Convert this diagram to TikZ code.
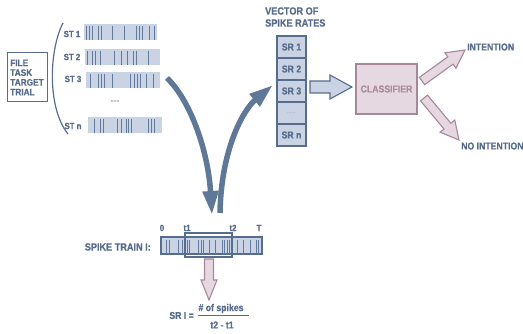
\documentclass[tikz,border=0pt]{standalone}
\usepackage{fontspec}
\setmainfont{Liberation Sans}[FakeStretch=0.87, BoldFont={Liberation Sans Bold}, BoldFeatures={FakeStretch=0.87, FakeBold=0.6}]
\usetikzlibrary{calc,arrows.meta}

\definecolor{ink}{RGB}{88,108,140}
\definecolor{arrowblue}{RGB}{96,120,152}
\definecolor{barfill}{RGB}{202,211,228}
\definecolor{spikecol}{RGB}{98,122,158}
\definecolor{pinkfill}{RGB}{230,216,224}
\definecolor{pinkline}{RGB}{166,136,154}
\definecolor{pinktext}{RGB}{170,140,158}

% block arrow: style, tail, tip, shaft half width, head half width, head length
\newcommand\blockarrow[6]{%
  \coordinate (ba-h) at ($(#3)!#6!(#2)$);
  \draw[#1] ($(#2)!#4!90:(#3)$) -- ($(ba-h)!#4!90:(#3)$) -- ($(ba-h)!#5!90:(#3)$)
    -- (#3) -- ($(ba-h)!#5!-90:(#3)$) -- ($(ba-h)!#4!-90:(#3)$)
    -- ($(#2)!#4!-90:(#3)$) -- cycle;
}

\tikzset{
  lbl/.style={text=ink, inner sep=0, font=\bfseries\fontsize{10}{11}\selectfont},
  small/.style={text=ink, inner sep=0, font=\bfseries\fontsize{9}{10}\selectfont},
  rowbar/.style={fill=barfill, draw=none, inner sep=0, minimum height=16},
  spike/.style={draw=spikecol, line width=1pt},
  cell/.style={fill=barfill, draw=ink, line width=1.2pt, inner sep=0,
    minimum width=29, minimum height=22, text=ink,
    font=\bfseries\fontsize{10}{11}\selectfont},
  bluearrow/.style={fill=barfill, draw=ink, line width=1.1pt, line join=miter},
  pinkarrow/.style={fill=pinkfill, draw=pinkline, line width=1.1pt, line join=miter},
  bigarrow/.style={draw=arrowblue, line width=5.5pt,
    -{Triangle[length=24pt,width=15pt]}},
}

\begin{document}
\begin{tikzpicture}[x=1pt,y=-1pt]
\useasboundingbox (0,0) rectangle (523,334);

% meta data box
\node[draw=ink, line width=1pt, fill=white, minimum width=40, minimum height=49,
  inner sep=0, align=left, text=ink, font=\bfseries\fontsize{9.5}{9.7}\selectfont]
  (meta) at (27,77.5) {FILE\\TASK\\TARGET\\TRIAL};

% brace grouping the spike trains
\draw[ink, line width=1.2pt] (63,23) .. controls (49,50) and (47,108) .. (68,134);

% spike trains
\node[rowbar, minimum width=73] (r1) at (120.5,32) {};
\node[rowbar, minimum width=75] (r2) at (122.5,57) {};
\node[rowbar, minimum width=74] (r3) at (123,80) {};
\node[rowbar, minimum width=74] (rn) at (125,125) {};

\node[small] (l1) at (72,34) {ST 1};
\node[small] (l2) at (72,57) {ST 2};
\node[small] (l3) at (73,79) {ST 3};
\node[small] (ln) at (73,126) {ST n};
\node[text=ink, inner sep=0, font=\bfseries\fontsize{6}{6}\selectfont] (dots) at (115,101) {......};

\foreach \x in {86,89,92,98,101,112,124,136,139,142,149,154}
  \draw[spike] (\x,26) -- (\x,40);
\foreach \x in {87,92,95,100,114,121,127,133,136,148}
  \draw[spike] (\x,51) -- (\x,65);
\foreach \x in {90,98,101,104,112,130,134,137,140,146,153}
  \draw[spike] (\x,74) -- (\x,88);
\foreach \x in {94,100,103,117,121,126,128,131,148,151,154}
  \draw[spike] (\x,119) -- (\x,133);

% vector of spike rates
\node[lbl, anchor=west, align=left, font=\bfseries\fontsize{10.5}{12}\selectfont]
  (vtitle) at (265,17) {VECTOR OF\\SPIKE RATES};
\node[cell] (sr1) at (291.5,47) {SR 1};
\node[cell] (sr2) at (291.5,69) {SR 2};
\node[cell] (sr3) at (291.5,91) {SR 3};
\node[cell, font=\fontsize{6}{6}\selectfont, text=ink!60] (sr4) at (291.5,113) {......};
\node[cell] (srn) at (291.5,135) {SR n};

% classifier and outcomes
\node[fill=pinkfill, draw=pinkline, line width=1.1pt, minimum width=61, minimum height=50,
  inner sep=0, text=pinktext, font=\bfseries\fontsize{10}{11}\selectfont]
  (clf) at (386.5,89) {CLASSIFIER};
\node[lbl, anchor=west] (yes) at (467,47) {INTENTION};
\node[lbl, anchor=west] (no) at (461,146) {NO INTENTION};

\coordinate (va) at (310,87);
\coordinate (vb) at (352,87);
\blockarrow{bluearrow}{va}{vb}{6pt}{12pt}{22pt}

\coordinate (ya) at (422,81);
\coordinate (yb) at (465,50);
\blockarrow{pinkarrow}{ya}{yb}{4.5pt}{9.5pt}{18pt}

\coordinate (na) at (424,98);
\coordinate (nb) at (459,140);
\blockarrow{pinkarrow}{na}{nb}{4.5pt}{9.5pt}{18pt}

% spike train i with the counting window
\node[lbl, anchor=east, font=\bfseries\fontsize{10.5}{11}\selectfont] (stlabel) at (151,247) {SPIKE TRAIN I:};
\node[fill=barfill, draw=ink, line width=1.1pt, minimum width=101, minimum height=17,
  inner sep=0] (train) at (211.5,245.5) {};
\foreach \x in {166,169,178,182,187,189,198,201,203,209,215,222,224,227,229,237,243,250,256,258}
  \draw[spike] (\x,240) -- (\x,254);
\node[draw=ink, line width=1.1pt, minimum width=47, minimum height=24, inner sep=0]
  (win) at (208.5,245) {};
\node[small] (t0) at (162,228) {0};
\node[small] (t1) at (187,228) {t1};
\node[small] (t2) at (233,228) {t2};
\node[small] (tT) at (259,228) {T};

% spike rate formula
\coordinate (da) at (209,259);
\coordinate (db) at (209,300);
\blockarrow{pinkarrow}{da}{db}{4.5pt}{8pt}{20pt}

\node[lbl, anchor=east] (sreq) at (194,315.5) {SR I =};
\node[lbl] (num) at (221,308.5) {\# of spikes};
\node[lbl] (den) at (222,325) {t2 - t1};
\draw[ink, line width=1.1pt] ($(num.south west)+(0,2.5)$) -- ($(num.south east)+(5,2.5)$);

% processing flow
\coordinate (s1) at (167,78);
\coordinate (e1) at (212,215);
\draw[bigarrow] (s1) .. controls (190,100) and (208,150) .. (e1);
\coordinate (s2) at (220,213);
\coordinate (e2) at (273,85);
\draw[bigarrow] (s2) .. controls (221,150) and (243,110) .. (e2);
\end{tikzpicture}
\end{document}
